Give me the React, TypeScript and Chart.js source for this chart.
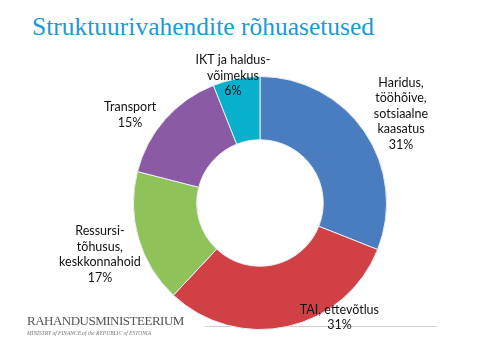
import React, { useEffect, useRef } from "react";
import { Chart, registerables } from "chart.js";

Chart.register(...registerables);

const categories: string[][] = [
  ["Haridus,", "tööhõive,", "sotsiaalne", "kaasatus"],
  ["TAI, ettevõtlus"],
  ["Ressursi-", "tõhusus,", "keskkonnahoid"],
  ["Transport"],
  ["IKT ja haldus-", "võimekus"],
];
const shares: number[] = [31, 31, 17, 15, 6];
const sliceColors: string[] = ["#4a7dc0", "#d04045", "#8fc35a", "#8a5aa5", "#09b0cc"];

// label placement: radius factor relative to outer radius, angle offset from slice middle (degrees)
const labelPlacement = [
  { r: 1.32, da: 1.8 },
  { r: 1.1, da: -22.2 },
  { r: 1.33, da: -1.7 },
  { r: 1.24, da: -7.3 },
  { r: 1.03, da: -1.2 },
];

const labelPlugin = {
  id: "sliceLabels",
  afterDatasetsDraw(chart: any) {
    const ctx = chart.ctx;
    const meta = chart.getDatasetMeta(0);
    const data = chart.data.datasets[0].data as number[];
    ctx.save();
    ctx.font = "12.5px Lato";
    ctx.fillStyle = "#111";
    ctx.textAlign = "center";
    ctx.textBaseline = "middle";
    const lh = 15.5;
    meta.data.forEach((arc: any, i: number) => {
      const { x, y, startAngle, endAngle, outerRadius } = arc.getProps(
        ["x", "y", "startAngle", "endAngle", "outerRadius"],
        true
      );
      const p = labelPlacement[i];
      const a = (startAngle + endAngle) / 2 + (p.da * Math.PI) / 180;
      const r = outerRadius * p.r;
      const cx = x + Math.cos(a) * r;
      const cy = y + Math.sin(a) * r;
      const lines = [...categories[i], `${data[i]}%`];
      const y0 = cy - ((lines.length - 1) * lh) / 2;
      lines.forEach((t, k) => ctx.fillText(t, cx, y0 + k * lh));
    });
    ctx.restore();
  },
};

export default function App() {
  const ref = useRef<HTMLCanvasElement>(null);
  useEffect(() => {
    if (!ref.current) return;
    const chart = new Chart(ref.current, {
      type: "doughnut",
      data: {
        labels: categories.map((c) => c.join(" ")),
        datasets: [
          {
            data: shares,
            backgroundColor: sliceColors,
            borderColor: "#e8eef6",
            borderWidth: 1,
          },
        ],
      },
      options: {
        animation: false,
        responsive: false,
        cutout: "50%",
        layout: { padding: { left: 133, right: 112, top: 76, bottom: 30 } },
        plugins: {
          legend: { display: false },
          tooltip: { enabled: false },
          title: { display: false },
        },
      },
      plugins: [labelPlugin],
    });
    return () => chart.destroy();
  }, []);

  return (
    <div style={{ position: "absolute", left: 0, top: 0, width: 499, height: 360, background: "#fff", overflow: "hidden" }}>
      <div
        style={{
          position: "absolute",
          left: 32,
          top: 12,
          fontFamily: "'Liberation Serif', serif",
          fontSize: 25.5,
          color: "#1a9ad6",
          whiteSpace: "nowrap",
          lineHeight: "29px",
        }}
      >
        Struktuurivahendite rõhuasetused
      </div>
      <div style={{ position: "absolute", left: 205, top: 326, width: 232, height: 1, background: "#cfcfcf" }} />
      <canvas ref={ref} width={499} height={360} style={{ position: "absolute", left: 0, top: 0, width: 499, height: 360 }} />
      <div
        style={{
          position: "absolute",
          left: 27,
          top: 313,
          fontFamily: "'Liberation Serif', serif",
          fontSize: 13,
          color: "#555",
          whiteSpace: "nowrap",
          lineHeight: "16px",
          letterSpacing: -0.5,
        }}
      >
        RAHANDUSMINISTEERIUM
      </div>
      <div
        style={{
          position: "absolute",
          left: 27,
          top: 330,
          fontFamily: "'Liberation Serif', serif",
          fontSize: 5.5,
          fontStyle: "italic",
          color: "#777",
          whiteSpace: "nowrap",
          lineHeight: "7px",
        }}
      >
        MINISTRY of FINANCE of the REPUBLIC of ESTONIA
      </div>
    </div>
  );
}
